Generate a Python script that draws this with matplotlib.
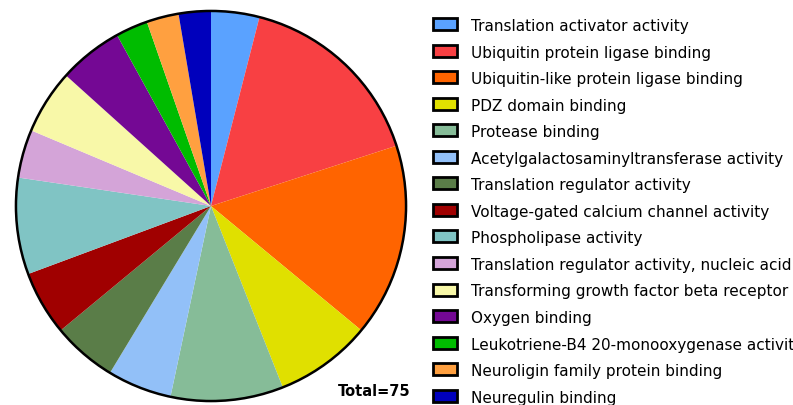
import matplotlib.pyplot as plt
from matplotlib.patches import Circle, Rectangle

labels = [
    "Translation activator activity",
    "Ubiquitin protein ligase binding",
    "Ubiquitin-like protein ligase binding",
    "PDZ domain binding",
    "Protease binding",
    "Acetylgalactosaminyltransferase activity",
    "Translation regulator activity",
    "Voltage-gated calcium channel activity",
    "Phospholipase activity",
    "Translation regulator activity, nucleic acid binding",
    "Transforming growth factor beta receptor binding",
    "Oxygen binding",
    "Leukotriene-B4 20-monooxygenase activity",
    "Neuroligin family protein binding",
    "Neuregulin binding",
]
counts = [3, 12, 12, 6, 7, 4, 4, 4, 6, 3, 4, 4, 2, 2, 2]
colors = [
    "#5AA2FF", "#F84043", "#FF6400", "#E0E000", "#86BC98",
    "#92C0F8", "#5A7D48", "#A00000", "#80C4C4", "#D4A4D8",
    "#F8F8A8", "#740894", "#00BC00", "#FFA040", "#0000BC",
]

W, H = 793, 406
fig = plt.figure(figsize=(W / 100, H / 100), dpi=100)

cx, cy, r = 211, 207, 197
ax = fig.add_axes([(cx - r) / W, (H - cy - r) / H, 2 * r / W, 2 * r / H])
ax.pie(counts, colors=colors, startangle=90, counterclock=False,
       wedgeprops=dict(linewidth=0))
ax.add_patch(Circle((0, 0), 1.0, fill=False, edgecolor="black", linewidth=1.8))
ax.set_xlim(-1.01, 1.01)
ax.set_ylim(-1.01, 1.01)
ax.set_aspect("equal")
ax.axis("off")

fig.text(410 / W, 1 - 392 / H, f"Total={sum(counts)}", ha="right", va="center",
         fontsize=10.5, fontweight="bold", family="DejaVu Sans")

# legend drawn by hand: boxes + labels
y0, step = 25, 26.55
for i, (lab, col) in enumerate(zip(labels, colors)):
    y = y0 + i * step
    fig.patches.append(Rectangle((433 / W, 1 - (y + 6) / H), 24 / W, 12 / H,
                                 transform=fig.transFigure, facecolor=col,
                                 edgecolor="black", linewidth=2))
    fig.text(471 / W, 1 - (y + 1.5) / H, lab, ha="left", va="center",
             fontsize=11, family="DejaVu Sans")

fig.savefig("out.png", dpi=100)
